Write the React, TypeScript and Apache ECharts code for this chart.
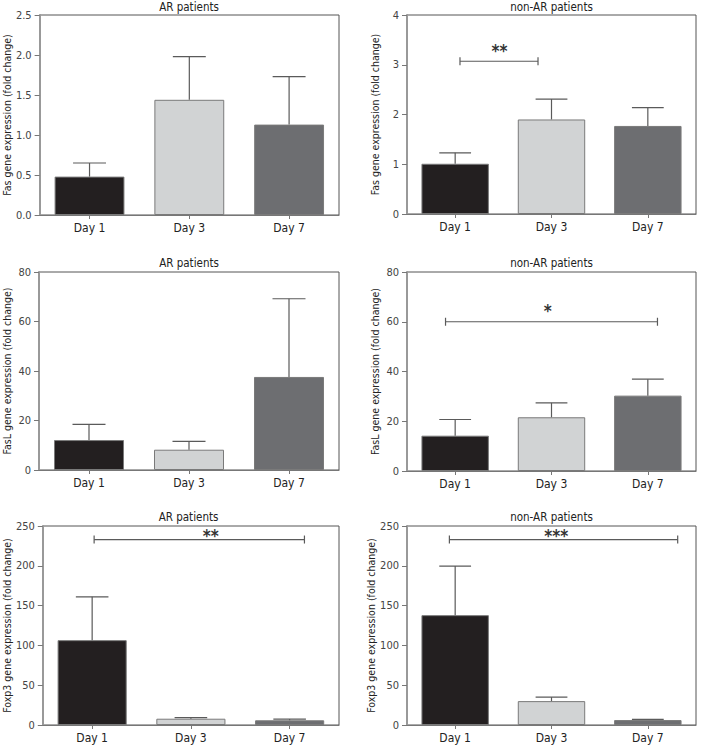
import React, { useEffect, useRef } from "react";
import * as echarts from "echarts";

const categories = ["Day 1", "Day 3", "Day 7"];
const barColors = ["#231f20", "#d1d3d4", "#6d6e71"];

const titles = ["AR patients", "non-AR patients", "AR patients", "non-AR patients", "AR patients", "non-AR patients"];
const yNames = [
  "Fas gene expression (fold change)",
  "Fas gene expression (fold change)",
  "FasL gene expression (fold change)",
  "FasL gene expression (fold change)",
  "Foxp3 gene expression (fold change)",
  "Foxp3 gene expression (fold change)",
];
const yMax = [2.5, 4, 80, 80, 250, 250];
const yInterval = [0.5, 1, 20, 20, 50, 50];
const yDecimals = [1, 0, 0, 0, 0, 0];

// means
const fasAR = [0.48, 1.44, 1.13];
const fasNonAR = [1.01, 1.9, 1.77];
const faslAR = [12.1, 8.2, 37.6];
const faslNonAR = [14.2, 21.6, 30.3];
const foxp3AR = [106.6, 7.9, 5.9];
const foxp3NonAR = [138, 30, 6.2];
// upper end of error bars
const fasARErr = [0.65, 1.98, 1.73];
const fasNonARErr = [1.23, 2.31, 2.14];
const faslARErr = [18.4, 11.6, 69.2];
const faslNonARErr = [20.7, 27.4, 36.9];
const foxp3ARErr = [161, 9.2, 7.5];
const foxp3NonARErr = [199.6, 35, 7];

const means = [fasAR, fasNonAR, faslAR, faslNonAR, foxp3AR, foxp3NonAR];
const errs = [fasARErr, fasNonARErr, faslARErr, faslNonARErr, foxp3ARErr, foxp3NonARErr];

// significance brackets: panel, x start, x end (in category units 0..3), y, star x, star y, label
const sigPanel = [1, 3, 4, 5];
const sigX1 = [0.55, 0.4, 0.52, 0.44];
const sigX2 = [1.36, 2.6, 2.65, 2.81];
const sigY = [3.07, 60, 233, 233];
const sigStarX = [0.96, 1.46, 1.7, 1.55];
const sigStarY = [3.27, 64.5, 238, 238];
const sigLabel = ["**", "*", "**", "***"];

const FONT = "'Liberation Sans Narrow', 'DejaVu Sans Condensed', 'Open Sans', sans-serif";

const grids = [
  { left: 39, top: 15, width: 300, height: 200 },
  { left: 407, top: 15, width: 289, height: 199 },
  { left: 39, top: 272, width: 300, height: 198 },
  { left: 407, top: 272, width: 289, height: 199 },
  { left: 38, top: 526, width: 301, height: 199 },
  { left: 407, top: 526, width: 289, height: 199 },
];

export default function App() {
  const ref = useRef<HTMLDivElement>(null);
  useEffect(() => {
    if (!ref.current) return;
    const chart = echarts.init(ref.current, undefined, { renderer: "svg" });

    const grid = grids.map((g) => ({ ...g, show: true, borderColor: "#555", borderWidth: 1, backgroundColor: "transparent" }));
    const title = grids.map((g, i) => ({
      text: titles[i],
      left: g.left + g.width / 2,
      top: Math.max(1, g.top - 15),
      textAlign: "center",
      padding: 0,
      textStyle: { fontFamily: FONT, fontSize: 11.5, fontWeight: "normal", color: "#222" },
    }));
    const xAxis: any[] = [];
    grids.forEach((_, i) => {
      xAxis.push({
        type: "category",
        gridIndex: i,
        data: categories,
        axisLine: { lineStyle: { color: "#777", width: 1.2 } },
        axisTick: { show: true, alignWithLabel: true, length: 4, lineStyle: { color: "#777" } },
        axisLabel: { fontFamily: FONT, fontSize: 12, color: "#222", margin: 7 },
      });
    });
    grids.forEach((_, i) => {
      xAxis.push({ type: "value", gridIndex: i, min: 0, max: 3, show: false });
    });
    const yAxis = grids.map((_, i) => ({
      type: "value",
      gridIndex: i,
      min: 0,
      max: yMax[i],
      interval: yInterval[i],
      name: yNames[i],
      nameLocation: "middle",
      nameGap: 27,
      nameTextStyle: { fontFamily: FONT, fontSize: 10.5, color: "#222" },
      splitLine: { show: false },
      axisLine: { show: true, lineStyle: { color: "#999", width: 2 } },
      axisTick: { show: true, length: 5, lineStyle: { color: "#777" } },
      axisLabel: {
        fontFamily: FONT,
        fontSize: 11,
        color: "#444",
        margin: 8,
        formatter: (v: number) => v.toFixed(yDecimals[i]),
      },
    }));

    const series: any[] = [];
    grids.forEach((_, i) => {
      series.push({
        type: "bar",
        xAxisIndex: i,
        yAxisIndex: i,
        barWidth: "70%",
        z: 2,
        data: means[i].map((v, k) => ({
          value: v,
          itemStyle: { color: barColors[k], borderColor: "#7a7a7a", borderWidth: 1 },
        })),
      });
      series.push({
        type: "custom",
        xAxisIndex: i,
        yAxisIndex: i,
        z: 3,
        data: means[i].map((v, k) => [k, v, errs[i][k]]),
        renderItem: (params: any, api: any) => {
          const base = api.coord([api.value(0), api.value(1)]);
          const top = api.coord([api.value(0), api.value(2)]);
          const band = api.size([1, 0])[0];
          const hw = band * 0.165;
          const style = { stroke: "#5a5a5a", lineWidth: 1.2 };
          return {
            type: "group",
            children: [
              { type: "line", shape: { x1: base[0], y1: base[1], x2: top[0], y2: top[1] }, style },
              { type: "line", shape: { x1: top[0] - hw, y1: top[1], x2: top[0] + hw, y2: top[1] }, style },
            ],
          };
        },
      });
    });

    sigPanel.forEach((p, s) => {
      series.push({
        type: "custom",
        xAxisIndex: 6 + p,
        yAxisIndex: p,
        z: 4,
        data: [[sigX1[s], sigX2[s], sigY[s], sigStarX[s], sigStarY[s]]],
        renderItem: (params: any, api: any) => {
          const a = api.coord([api.value(0), api.value(2)]);
          const b = api.coord([api.value(1), api.value(2)]);
          const st = api.coord([api.value(3), api.value(4)]);
          const style = { stroke: "#5a5a5a", lineWidth: 1.2 };
          return {
            type: "group",
            children: [
              { type: "line", shape: { x1: a[0], y1: a[1], x2: b[0], y2: b[1] }, style },
              { type: "line", shape: { x1: a[0], y1: a[1] - 4, x2: a[0], y2: a[1] + 4 }, style },
              { type: "line", shape: { x1: b[0], y1: b[1] - 4, x2: b[0], y2: b[1] + 4 }, style },
              {
                type: "text",
                x: st[0],
                y: st[1],
                style: {
                  text: sigLabel[s],
                  fill: "#333",
                  font: "bold 17px " + FONT,
                  align: "center",
                  verticalAlign: "middle",
                },
              },
            ],
          };
        },
      });
    });

    chart.setOption({
      animation: false,
      backgroundColor: "#fff",
      title,
      grid,
      xAxis,
      yAxis,
      series,
    });
    return () => chart.dispose();
  }, []);
  return <div ref={ref} style={{ position: "fixed", left: 0, top: 0, width: 711, height: 745 }} />;
}
